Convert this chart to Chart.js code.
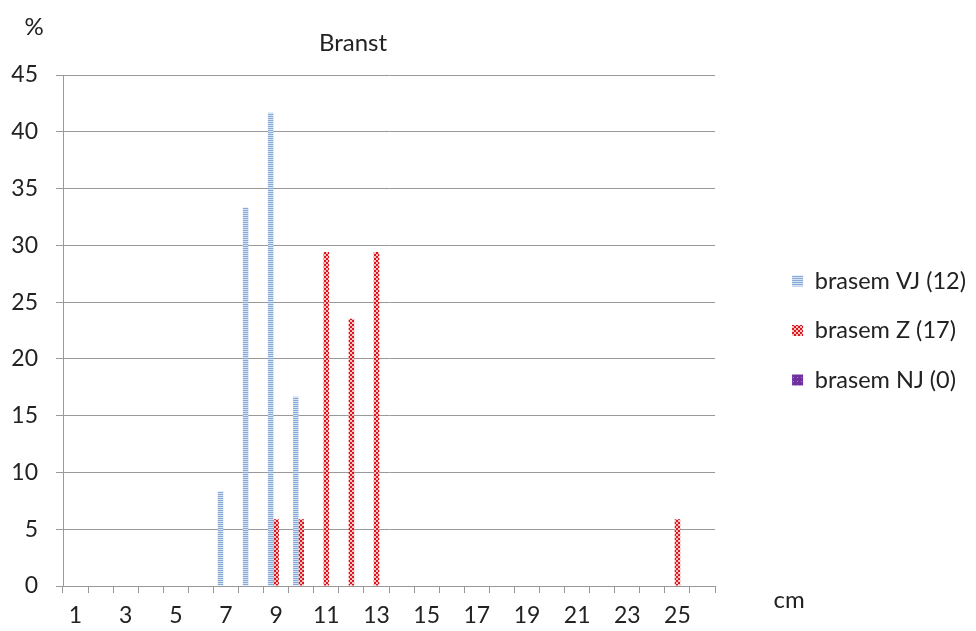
<!DOCTYPE html>
<html>
<head>
<meta charset="utf-8">
<script src="https://cdn.jsdelivr.net/npm/chart.js@4.4.1/dist/chart.umd.min.js"></script>
<style>
    html, body { margin: 0; padding: 0; background: #fff; }
    #wrap { width: 976px; height: 631px; position: relative; }
</style>
</head>
<body>
<div id="wrap"><canvas id="branst-chart"></canvas></div>
<script>
/* Chart data */
let chartTitle = 'Branst'
let lengthsCm = ['1', '2', '3', '4', '5', '6', '7', '8', '9', '10', '11', '12', '13',
                 '14', '15', '16', '17', '18', '19', '20', '21', '22', '23', '24', '25', '26']
let seriesNames = ['brasem VJ (12)', 'brasem Z (17)', 'brasem NJ (0)']
let brasemVJ = [0, 0, 0, 0, 0, 0, 8.33, 33.33, 41.67, 16.67, 0, 0, 0,
                0, 0, 0, 0, 0, 0, 0, 0, 0, 0, 0, 0, 0]
let brasemZ = [0, 0, 0, 0, 0, 0, 0, 0, 5.88, 5.88, 29.41, 23.53, 29.41,
               0, 0, 0, 0, 0, 0, 0, 0, 0, 0, 0, 5.88, 0]
let brasemNJ = [0, 0, 0, 0, 0, 0, 0, 0, 0, 0, 0, 0, 0,
                0, 0, 0, 0, 0, 0, 0, 0, 0, 0, 0, 0, 0]

let fontName = 'Lato'
let textColor = '#222'
let axisGray = '#999999'

// small tiles used as fill patterns (like the excel pattern fills)
function makePattern(size, paint) {
    let tile = document.createElement('canvas')
    tile.width = size
    tile.height = size
    let t = tile.getContext('2d')
    paint(t)
    return t.createPattern(tile, 'repeat')
}

// light blue horizontal stripes
let bluePattern = makePattern(2, function(t) {
    t.fillStyle = '#86a9d8'
    t.fillRect(0, 0, 2, 1)
    t.fillStyle = '#d6e3f3'
    t.fillRect(0, 1, 2, 1)
})

// red / white small checks
let redPattern = makePattern(4, function(t) {
    t.fillStyle = '#f4c4c4'
    t.fillRect(0, 0, 4, 4)
    t.fillStyle = '#d9141b'
    t.fillRect(0, 0, 2, 2)
    t.fillRect(2, 2, 2, 2)
})

// purple with light dots
let purplePattern = makePattern(4, function(t) {
    t.fillStyle = '#7030a0'
    t.fillRect(0, 0, 4, 4)
    t.fillStyle = '#a77cc8'
    t.fillRect(1, 1, 1, 1)
})

// draws the title and the axis unit labels
let extraText = {
    id: 'extraText',
    afterDraw(chart) {
        let c = chart.ctx
        let area = chart.chartArea
        c.save()
        c.fillStyle = textColor
        c.textAlign = 'center'
        c.textBaseline = 'middle'
        c.font = '24px ' + fontName
        c.fillText(chartTitle, area.left + 290, 43)
        c.fillText('%', 34, 27)
        c.fillText('cm', area.right + 74, 600)
        c.restore()
    }
}

let ctx = document.querySelector('#branst-chart').getContext('2d')

let branstChart = new Chart(ctx, {
    type: 'bar',
    data: {
        labels: lengthsCm,
        datasets: [
            { label: seriesNames[0], data: brasemVJ, backgroundColor: bluePattern, borderWidth: 0 },
            { label: seriesNames[1], data: brasemZ, backgroundColor: redPattern, borderWidth: 0 },
            { label: seriesNames[2], data: brasemNJ, backgroundColor: purplePattern, borderWidth: 0 }
        ]
    },
    options: {
        responsive: true,
        maintainAspectRatio: false,
        animation: false,
        devicePixelRatio: 1,
        layout: { padding: { top: 75, left: 0, right: 0, bottom: 0 } },
        datasets: { bar: { categoryPercentage: 0.66, barPercentage: 1.0 } },
        scales: {
            x: {
                offset: true,
                grid: { offset: true, drawOnChartArea: false, color: axisGray, tickLength: 7 },
                border: { color: axisGray },
                ticks: {
                    autoSkip: false,
                    maxRotation: 0,
                    padding: 9,
                    color: textColor,
                    font: { family: fontName, size: 23 },
                    callback: function(value, index) {
                        return index % 2 == 0 ? this.getLabelForValue(value) : ''
                    }
                },
                afterFit(axis) { axis.height = 45 }
            },
            y: {
                min: 0,
                max: 45,
                ticks: {
                    stepSize: 5,
                    padding: 18,
                    color: textColor,
                    font: { family: fontName, size: 23 }
                },
                grid: { color: axisGray, tickLength: 7 },
                border: { color: axisGray },
                afterFit(axis) { axis.width = 63 }
            },
            // empty axis that only keeps space between the plot and the legend
            gap: {
                type: 'linear',
                position: 'right',
                grid: { display: false },
                border: { display: false },
                ticks: { display: false },
                afterFit(axis) { axis.width = 51 }
            }
        },
        plugins: {
            title: { display: false },
            tooltip: { enabled: false },
            legend: {
                position: 'right',
                fullSize: false,
                maxWidth: 320,
                labels: {
                    boxWidth: 11,
                    boxHeight: 11,
                    padding: 26,
                    color: textColor,
                    font: { family: fontName, size: 23.5 }
                }
            }
        }
    },
    plugins: [extraText]
})
</script>
</body>
</html>
